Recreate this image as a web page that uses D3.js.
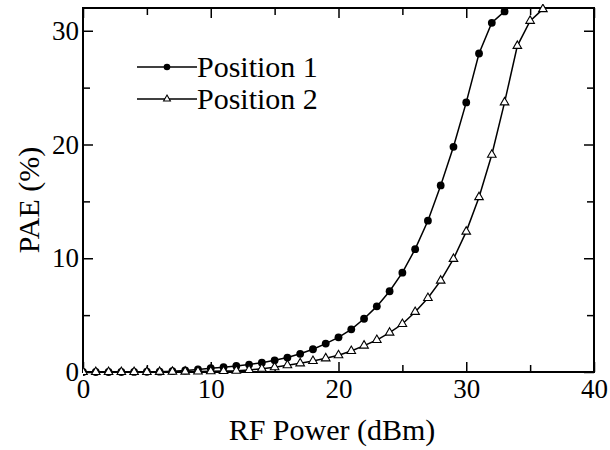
<!DOCTYPE html>
<html>
<head>
<meta charset="utf-8">
<script src="https://cdn.jsdelivr.net/npm/d3@7"></script>
<style>
  html, body { margin: 0; padding: 0; background: #fff; }
  svg { display: block; }
  svg text { font-family: "Liberation Serif" !important; }
</style>
</head>
<body>
<svg id="chart" width="610" height="450"></svg>
<script>
// RF input power (dBm) and power-added efficiency (%) for the two positions
const pos1Power = d3.range(0, 34);
const pos1PAE = [0.0, 0.0, 0.0, 0.0, 0.01, 0.02, 0.03, 0.07, 0.13, 0.22,
                 0.33, 0.42, 0.53, 0.65, 0.82, 1.03, 1.27, 1.6, 2.0, 2.5,
                 3.05, 3.75, 4.68, 5.77, 7.1, 8.73, 10.8, 13.3, 16.4, 19.8,
                 23.7, 28.0, 30.7, 31.7];
const pos2Power = d3.range(0, 37);
const pos2PAE = [0.0, 0.0, 0.0, 0.0, 0.0, 0.0, 0.01, 0.02, 0.03, 0.04,
                 0.06, 0.08, 0.11, 0.18, 0.29, 0.41, 0.59, 0.76, 0.97, 1.2,
                 1.47, 1.85, 2.32, 2.81, 3.46, 4.22, 5.28, 6.51, 8.03, 9.94,
                 12.34, 15.37, 19.1, 23.7, 28.67, 30.87, 31.9];
const seriesNames = ["Position 1", "Position 2"];
const xMajorTicks = [0, 10, 20, 30, 40];
const xMinorTicks = [5, 15, 25, 35];
const yMajorTicks = [0, 10, 20, 30];
const yMinorTicks = [5, 15, 25];

const FONT = "Liberation Serif";

const svg = d3.select("#chart");
const frame = { left: 83, right: 594, top: 8, bottom: 372 };

const x = d3.scaleLinear().domain([0, 40]).range([frame.left, frame.right]);
const y = d3.scaleLinear().domain([0, 32]).range([frame.bottom, frame.top]);

const series = [
  { name: seriesNames[0], data: pos1Power.map((p, i) => [p, pos1PAE[i]]), marker: "circle" },
  { name: seriesNames[1], data: pos2Power.map((p, i) => [p, pos2PAE[i]]), marker: "triangle" }
];

// clip the traces to the plot frame
svg.append("defs").append("clipPath").attr("id", "plotClip")
  .append("rect").attr("x", frame.left).attr("y", frame.top - 4)
  .attr("width", frame.right - frame.left).attr("height", frame.bottom - frame.top + 8);

// inward ticks on all four sides
function tickGroup(axisFn, scale, values, size, transform, labels) {
  const g = svg.append("g").attr("transform", transform)
    .call(axisFn(scale).tickValues(values).tickSize(size).tickPadding(8)
      .tickFormat(labels ? d3.format("d") : () => ""));
  g.attr("font-family", null);
  g.select(".domain").remove();
  g.selectAll(".tick line").attr("stroke", "#000").attr("stroke-width", 1.5);
  g.selectAll(".tick text").style("font-family", FONT).style("font-size", "27px")
    .attr("fill", "#000");
  return g;
}
const gx = tickGroup(d3.axisBottom, x, xMajorTicks, -10, `translate(0,${frame.bottom})`, true);
gx.selectAll(".tick text").attr("y", 7).attr("dy", "0.71em");
tickGroup(d3.axisBottom, x, xMinorTicks, -7, `translate(0,${frame.bottom})`, false);
tickGroup(d3.axisTop, x, xMajorTicks, -10, `translate(0,${frame.top})`, false);
tickGroup(d3.axisTop, x, xMinorTicks, -7, `translate(0,${frame.top})`, false);
const gy = tickGroup(d3.axisLeft, y, yMajorTicks, -10, `translate(${frame.left},0)`, true);
gy.selectAll(".tick text").attr("x", -4);
tickGroup(d3.axisLeft, y, yMinorTicks, -7, `translate(${frame.left},0)`, false);
tickGroup(d3.axisRight, y, yMajorTicks, -10, `translate(${frame.right},0)`, false);
tickGroup(d3.axisRight, y, yMinorTicks, -7, `translate(${frame.right},0)`, false);

// plot frame
svg.append("rect").attr("x", frame.left).attr("y", frame.top)
  .attr("width", frame.right - frame.left).attr("height", frame.bottom - frame.top)
  .attr("fill", "none").attr("stroke", "#000").attr("stroke-width", 2);

const line = d3.line().x(d => x(d[0])).y(d => y(d[1]));
const triangle = d3.symbol().type(d3.symbolTriangle);

const plot = svg.append("g").attr("clip-path", "url(#plotClip)");
series.forEach(s => {
  plot.append("path").datum(s.data).attr("d", line)
    .attr("fill", "none").attr("stroke", "#000").attr("stroke-width", 1.5);
  if (s.marker === "circle") {
    plot.selectAll(null).data(s.data).join("circle")
      .attr("cx", d => x(d[0])).attr("cy", d => y(d[1])).attr("r", 3.9)
      .attr("fill", "#000");
  } else {
    plot.selectAll(null).data(s.data).join("path")
      .attr("d", triangle.size(32)())
      .attr("transform", d => `translate(${x(d[0])},${y(d[1])})`)
      .attr("fill", "#fff").attr("stroke", "#000").attr("stroke-width", 1.1);
  }
});

// legend
const legend = svg.append("g");
series.forEach((s, i) => {
  const ly = 67 + i * 32;
  legend.append("line").attr("x1", 137).attr("x2", 197).attr("y1", ly).attr("y2", ly)
    .attr("stroke", "#000").attr("stroke-width", 1.5);
  if (s.marker === "circle") {
    legend.append("circle").attr("cx", 167).attr("cy", ly).attr("r", 3.3).attr("fill", "#000");
  } else {
    legend.append("path").attr("d", triangle.size(20)())
      .attr("transform", `translate(167,${ly})`)
      .attr("fill", "#fff").attr("stroke", "#000").attr("stroke-width", 1.1);
  }
  legend.append("text").attr("x", 197).attr("y", ly + 10)
    .style("font-family", FONT).style("font-size", "30px").text(s.name);
});

// axis titles
svg.append("text").attr("x", 332).attr("y", 440).attr("text-anchor", "middle")
  .style("font-family", FONT).style("font-size", "30px").text("RF Power (dBm)");
svg.append("text").attr("transform", "translate(39,200) rotate(-90)")
  .attr("text-anchor", "middle")
  .style("font-family", FONT).style("font-size", "30px").text("PAE (%)");
</script>
</body>
</html>
